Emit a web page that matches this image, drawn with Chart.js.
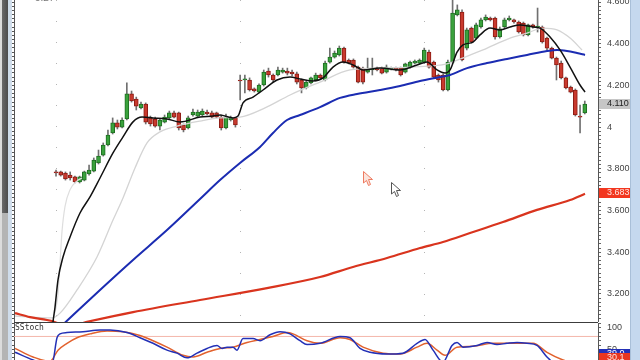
<!doctype html>
<html lang="en">
<head>
<meta charset="utf-8">
<title>Candles with moving averages and SStoch</title>
<script src="https://cdn.jsdelivr.net/npm/chart.js"></script>
<style>
    html, body { margin: 0; padding: 0; background: #fff; }
    #wrap { position: relative; width: 640px; height: 360px; overflow: hidden; background: #fff; }
    #main { position: absolute; left: 0; top: 0; }
    #stoch { position: absolute; left: 0; top: 323px; }
    .box { position: absolute; }
    .txt { position: absolute; white-space: nowrap; }
</style>
</head>
<body>
<div id="wrap">
    <canvas id="main" width="640" height="322"></canvas>
    <canvas id="stoch" width="640" height="37"></canvas>

    <!-- window chrome -->
    <div class="box" style="left:0;top:0;width:2px;height:360px;background:#dcdcdc"></div>
    <div class="box" style="left:2px;top:0;width:6px;height:213px;background:linear-gradient(90deg,#6a6a6a,#4c4c4c)"></div>
    <div class="box" style="left:2px;top:213px;width:6px;height:147px;background:#b4b4b4"></div>
    <div class="box" style="left:8px;top:0;width:4px;height:360px;background:#cfdcea"></div>
    <div class="box" style="left:630px;top:0;width:10px;height:360px;background:#c5d8ee;border-left:1px solid #a9bfd8"></div>
    <div class="box" style="left:14px;top:322px;width:584px;height:1px;background:#3c3c3c"></div>

    <div class="txt" style="left:35px;top:-8px;font:10px 'Liberation Sans';color:#777">5.27</div>
    <div class="txt" style="left:15px;top:323px;font:8px 'DejaVu Sans Mono';color:#333">SStoch</div>

    <svg class="box" style="left:363px;top:171px" width="12" height="16">
        <path d="M0.5,0.5 L0.5,12 L3.5,9.5 L5.5,14.5 L7.5,13.5 L5.5,8.5 L9.5,8.5 Z" fill="#fbe4dc" stroke="#ee7b60" stroke-width="1"/>
    </svg>
    <svg class="box" style="left:391px;top:182px" width="12" height="16">
        <path d="M0.5,0.5 L0.5,12 L3.5,9.5 L5.5,14.5 L7.5,13.5 L5.5,8.5 L9.5,8.5 Z" fill="#fff" stroke="#555" stroke-width="1"/>
    </svg>
</div>
<script>
    // daily candles, index 0..112
    var opens = [
        3.785, 3.785, 3.780, 3.770, 3.761, 3.737, 3.746, 3.775, 3.789, 3.828,
        3.866, 3.914, 3.972, 4.020, 4.000, 4.039, 4.159, 4.135, 4.092, 4.111,
        4.044, 4.039, 4.005, 4.024, 4.044, 4.068, 4.068, 4.010, 3.996, 4.058,
        4.053, 4.058, 4.072, 4.068, 4.068, 4.048, 3.996, 4.034, 4.044, 4.226,
        4.226, 4.226, 4.183, 4.168, 4.202, 4.269, 4.250, 4.250, 4.264, 4.269,
        4.264, 4.255, 4.226, 4.188, 4.212, 4.226, 4.250, 4.226, 4.312, 4.336,
        4.346, 4.379, 4.322, 4.322, 4.288, 4.283, 4.264, 4.274, 4.283, 4.283,
        4.264, 4.279, 4.283, 4.283, 4.264, 4.288, 4.307, 4.307, 4.312, 4.360,
        4.312, 4.250, 4.250, 4.178, 4.312, 4.538, 4.552, 4.379, 4.475, 4.427,
        4.480, 4.514, 4.523, 4.523, 4.432, 4.480, 4.514, 4.514, 4.504, 4.499,
        4.442, 4.490, 4.480, 4.480, 4.427, 4.379, 4.331, 4.307, 4.236, 4.192,
        4.178, 4.053, 4.068];
    var highs = [
        3.794, 3.789, 3.785, 3.785, 3.765, 3.765, 3.789, 3.818, 3.852, 3.890,
        3.924, 3.986, 4.044, 4.034, 4.044, 4.212, 4.173, 4.144, 4.120, 4.116,
        4.053, 4.048, 4.039, 4.058, 4.077, 4.077, 4.072, 4.015, 4.053, 4.087,
        4.082, 4.087, 4.082, 4.077, 4.072, 4.058, 4.063, 4.053, 4.048, 4.250,
        4.250, 4.236, 4.188, 4.207, 4.274, 4.283, 4.255, 4.288, 4.283, 4.283,
        4.274, 4.264, 4.231, 4.221, 4.240, 4.259, 4.255, 4.317, 4.379, 4.365,
        4.389, 4.384, 4.327, 4.327, 4.293, 4.288, 4.331, 4.331, 4.288, 4.288,
        4.298, 4.288, 4.288, 4.288, 4.307, 4.317, 4.322, 4.327, 4.379, 4.370,
        4.317, 4.255, 4.255, 4.322, 4.610, 4.586, 4.562, 4.475, 4.480, 4.499,
        4.523, 4.538, 4.528, 4.528, 4.480, 4.523, 4.533, 4.518, 4.509, 4.504,
        4.494, 4.494, 4.571, 4.485, 4.432, 4.384, 4.336, 4.317, 4.240, 4.197,
        4.183, 4.106, 4.125];
    var lows = [
        3.765, 3.765, 3.746, 3.746, 3.732, 3.732, 3.742, 3.770, 3.785, 3.823,
        3.861, 3.910, 3.967, 3.991, 3.996, 4.034, 4.120, 4.082, 4.087, 4.015,
        4.005, 4.000, 3.986, 4.020, 4.039, 4.044, 3.986, 3.977, 3.991, 4.053,
        4.048, 4.053, 4.058, 4.044, 4.044, 3.986, 3.991, 4.029, 4.000, 4.130,
        4.164, 4.173, 4.168, 4.164, 4.197, 4.240, 4.216, 4.245, 4.259, 4.250,
        4.245, 4.207, 4.164, 4.183, 4.207, 4.221, 4.231, 4.221, 4.307, 4.331,
        4.341, 4.307, 4.303, 4.283, 4.212, 4.207, 4.259, 4.250, 4.269, 4.255,
        4.259, 4.274, 4.269, 4.245, 4.259, 4.283, 4.303, 4.303, 4.307, 4.283,
        4.236, 4.216, 4.173, 4.173, 4.307, 4.533, 4.317, 4.370, 4.403, 4.422,
        4.475, 4.509, 4.509, 4.422, 4.427, 4.475, 4.509, 4.499, 4.451, 4.437,
        4.437, 4.475, 4.456, 4.403, 4.370, 4.327, 4.226, 4.231, 4.183, 4.164,
        4.053, 3.972, 4.063];
    var closes = [
        3.780, 3.770, 3.751, 3.756, 3.737, 3.761, 3.785, 3.794, 3.842, 3.861,
        3.914, 3.962, 4.020, 4.000, 4.034, 4.159, 4.125, 4.101, 4.111, 4.024,
        4.015, 4.005, 4.034, 4.048, 4.068, 4.048, 3.996, 3.986, 4.044, 4.072,
        4.072, 4.077, 4.063, 4.048, 4.048, 3.996, 4.048, 4.044, 4.010, 4.221,
        4.231, 4.178, 4.173, 4.202, 4.264, 4.250, 4.226, 4.274, 4.274, 4.259,
        4.255, 4.216, 4.188, 4.216, 4.236, 4.250, 4.236, 4.307, 4.336, 4.355,
        4.379, 4.312, 4.307, 4.288, 4.216, 4.216, 4.283, 4.283, 4.274, 4.259,
        4.288, 4.283, 4.274, 4.250, 4.303, 4.312, 4.317, 4.322, 4.370, 4.288,
        4.240, 4.226, 4.178, 4.312, 4.547, 4.562, 4.322, 4.466, 4.408, 4.490,
        4.514, 4.528, 4.514, 4.432, 4.471, 4.514, 4.523, 4.504, 4.456, 4.442,
        4.490, 4.480, 4.485, 4.408, 4.379, 4.331, 4.298, 4.236, 4.188, 4.168,
        4.058, 4.048, 4.110];

    // moving averages as [candle index, price]
    var blackMA = [[-0.9, 3.0], [-0.64, 3.065], [-0.21, 3.137], [0.42, 3.267], [1.48, 3.377], [2.97, 3.473],
        [5.08, 3.588], [7.20, 3.665], [9.32, 3.756], [12.07, 3.876], [14.19, 3.953], [16.31, 4.025],
        [18.22, 4.048], [20.55, 4.044], [23.51, 4.039], [26.27, 4.025], [30.50, 4.048], [33.26, 4.053],
        [34.74, 4.058], [37.49, 4.044], [38.55, 4.053], [39.61, 4.116], [41.73, 4.144], [43.85, 4.178],
        [46.81, 4.226], [49.57, 4.240], [51.68, 4.231], [54.44, 4.221], [56.56, 4.236], [58.67, 4.288],
        [60.79, 4.312], [62.91, 4.298], [65.03, 4.274], [68.63, 4.283], [72.87, 4.274], [76.47, 4.298],
        [78.58, 4.312], [80.70, 4.274], [82.40, 4.259], [83.46, 4.274], [84.94, 4.360], [86.21, 4.394],
        [88.33, 4.408], [89.81, 4.442], [91.93, 4.475], [94.05, 4.466], [96.17, 4.480], [98.28, 4.490],
        [101.04, 4.480], [102.52, 4.475], [104.64, 4.432], [106.76, 4.370], [108.88, 4.288],
        [110.99, 4.202], [112.05, 4.168]];
    var grayMA = [[-8.68, 3.094], [-0.85, 3.085], [0.85, 3.108], [4.45, 3.219], [8.68, 3.377], [12.07, 3.554],
        [14.19, 3.660], [16.73, 3.804], [19.28, 3.924], [22.03, 3.977], [25.63, 4.005], [30.50, 4.029],
        [34.74, 4.044], [38.97, 4.048], [44.27, 4.092], [49.57, 4.154], [55.92, 4.216], [62.27, 4.274],
        [68.63, 4.283], [74.98, 4.288], [82.82, 4.303], [86.63, 4.336], [90.45, 4.370], [96.17, 4.427],
        [99.77, 4.451], [103.16, 4.475], [106.13, 4.466], [108.88, 4.427], [111.42, 4.370]];
    var fastGrayMA = [[-0.64, 3.075], [0.42, 3.20], [0.85, 3.35], [1.27, 3.50], [1.91, 3.62], [2.97, 3.70],
        [4.45, 3.742], [5.5, 3.756]];
    var blueMA = [[0.85, 3.04], [9.32, 3.219], [16.31, 3.363], [23.51, 3.506], [30.50, 3.655], [34.74, 3.746],
        [38.97, 3.828], [43.21, 3.905], [45.96, 3.972], [48.93, 4.034], [51.68, 4.058], [55.92, 4.096],
        [60.16, 4.140], [63.76, 4.159], [68.63, 4.178], [72.87, 4.197], [77.10, 4.221], [81.34, 4.240],
        [83.46, 4.250], [87.06, 4.283], [91.30, 4.307], [95.53, 4.327], [99.77, 4.346], [104.00, 4.365],
        [106.13, 4.370], [108.24, 4.365], [110.36, 4.355], [112.05, 4.346]];
    var redMA = [[-8.68, 3.108], [-5.51, 3.089], [-0.85, 3.070], [0.85, 3.058], [5.08, 3.058], [6.57, 3.066],
        [16.31, 3.113], [30.50, 3.171], [44.69, 3.228], [55.92, 3.281], [62.91, 3.329], [70.11, 3.372],
        [77.10, 3.420], [81.97, 3.449], [87.69, 3.492], [94.68, 3.545], [101.88, 3.603], [108.88, 3.650],
        [112.05, 3.680]];

    // slow stochastic, [candle index, value]
    var stochK = [[-8.68, 43], [-4.87, 25], [-2.33, 15], [-0.85, 15], [0.21, 77], [0.85, 86], [2.33, 89],
        [5.72, 91], [9.32, 95], [11.44, 95], [15.04, 89], [17.79, 77], [20.55, 64], [23.51, 48], [25.63, 41],
        [27.75, 30], [29.87, 41], [31.98, 52], [34.10, 59], [35.16, 52], [36.22, 55], [37.49, 55], [38.34, 48],
        [39.61, 75], [41.73, 75], [43.21, 70], [45.33, 84], [47.45, 91], [49.57, 86], [51.68, 70], [53.17, 61],
        [55.92, 64], [60.16, 80], [62.27, 77], [64.39, 52], [66.51, 43], [70.11, 39], [73.50, 41], [76.47, 64],
        [78.16, 73], [79.86, 48], [81.97, 20], [83.88, 59], [84.94, 66], [86.21, 55], [89.18, 59], [91.30, 66],
        [93.41, 61], [95.53, 64], [97.65, 66], [99.77, 64], [101.88, 59], [104.00, 32], [105.27, 20],
        [112.05, 10]];
    var stochD = [[-8.68, 52], [-4.87, 32], [-1.27, 22], [0.42, 48], [2.33, 64], [4.45, 77], [7.20, 86],
        [10.80, 93], [14.19, 91], [17.79, 82], [20.55, 70], [23.51, 55], [26.90, 36], [29.02, 32], [31.98, 43],
        [34.74, 52], [37.49, 55], [40.46, 66], [43.21, 73], [45.96, 80], [48.93, 89], [50.20, 86], [53.17, 70],
        [55.92, 64], [60.16, 77], [62.27, 73], [65.03, 55], [69.27, 41], [72.87, 39], [76.47, 55], [78.58, 64],
        [80.70, 48], [82.40, 36], [84.94, 55], [88.33, 57], [92.57, 64], [96.80, 64], [101.04, 64],
        [104.00, 43], [107.39, 25], [112.05, 10]];
    var stochLevel = 80;

    var priceLabels = [3.2, 3.4, 3.6, 3.8, 4.0, 4.2, 4.4, 4.6];
    var stochLabels = [50, 100];
    var monthStarts = [0, 39, 78];
    var lastRedMA = 3.683;
    var lastK = 39, lastD = 30;

    var X_MIN = -8.9, X_MAX = 114.8;

    Chart.defaults.font.family = "'Liberation Sans'";
    Chart.defaults.font.size = 9;
    Chart.defaults.color = '#444';

    function pts(arr) {
        return arr.map(function (p) { return {x: p[0], y: p[1]}; });
    }

    function stepTicks(lo, hi, step) {
        var t = [];
        for (var v = lo; v <= hi + 1e-9; v += step) t.push({value: Math.round(v * 1000) / 1000});
        return t;
    }

    function fitY(w) {
        return function (a) { a.width = w; a.paddingTop = 0; a.paddingBottom = 0; };
    }

    function lineDs(data, color, width) {
        return {
            type: 'line', data: pts(data), borderColor: color, borderWidth: width,
            pointRadius: 0, fill: false, cubicInterpolationMode: 'monotone', order: 0
        };
    }

    // value boxes on the right axis
    var valueBoxes = {
        id: 'valueBoxes',
        afterDraw: function (chart, args, opts) {
            var ctx = chart.ctx, y = chart.scales.y, right = chart.chartArea.right;
            ctx.save();
            opts.items.forEach(function (b) {
                var py = Math.round(y.getPixelForValue(b.value));
                ctx.fillStyle = b.bg;
                ctx.fillRect(right + 1, py - 5, 31, 10);
                ctx.fillStyle = b.fg;
                ctx.font = "9px 'Liberation Sans'";
                ctx.textBaseline = 'middle';
                ctx.fillText(b.text, right + 9, py);
            });
            ctx.restore();
        }
    };

    var greenBody = '#3aa23c', redBody = '#c93a2e';
    var bodyColors = opens.map(function (o, i) { return closes[i] >= o ? greenBody : redBody; });
    var bodyBorders = opens.map(function (o, i) { return closes[i] >= o ? '#1f6e22' : '#8c1c14'; });

    new Chart(document.getElementById('main'), {
        type: 'bar',
        data: {
            datasets: [
                lineDs(blackMA, '#111111', 1.5),
                lineDs(blueMA, '#1b2cb2', 2),
                lineDs(redMA, '#d9341e', 2.2),
                lineDs(grayMA, '#d4d4d4', 1.3),
                lineDs(fastGrayMA, '#dedede', 1.2),
                {
                    data: opens.map(function (o, i) { return {x: i, y: [o, closes[i]]}; }),
                    backgroundColor: bodyColors, borderColor: bodyBorders, borderWidth: 1,
                    borderSkipped: false, barThickness: 4, minBarLength: 1, grouped: false, order: 2
                },
                {
                    data: lows.map(function (l, i) { return {x: i, y: [l, highs[i]]}; }),
                    backgroundColor: '#707070', barThickness: 1, grouped: false, order: 3
                }
            ]
        },
        options: {
            responsive: false,
            animation: false,
            devicePixelRatio: 1,
            events: [],
            layout: {padding: 0},
            scales: {
                x: {
                    type: 'linear', min: X_MIN, max: X_MAX, offset: false,
                    afterBuildTicks: function (a) { a.ticks = monthStarts.map(function (v) { return {value: v}; }); },
                    afterFit: function (a) { a.height = 0; a.paddingLeft = 0; a.paddingRight = 0; },
                    ticks: {display: false},
                    grid: {color: '#b4b4b4', drawTicks: false, offset: false},
                    border: {display: false, dash: [1, 20]}
                },
                y: {
                    position: 'right', min: 3.0653, max: 4.6096,
                    afterBuildTicks: function (a) { a.ticks = stepTicks(3.08, 4.60, 0.02); },
                    afterFit: fitY(42),
                    ticks: {
                        autoSkip: false, padding: 6, color: '#444',
                        callback: function (v) {
                            for (var k = 0; k < priceLabels.length; k++) {
                                if (Math.abs(priceLabels[k] - v) < 1e-6) return v === 4 ? '4' : priceLabels[k].toFixed(3);
                            }
                            return '';
                        }
                    },
                    grid: {drawOnChartArea: false, tickLength: 3, color: '#666'},
                    border: {color: '#555'}
                },
                yl: {
                    position: 'left', min: 3.0653, max: 4.6096,
                    afterBuildTicks: function (a) { a.ticks = stepTicks(3.08, 4.60, 0.02); },
                    afterFit: fitY(14),
                    ticks: {display: false},
                    grid: {drawOnChartArea: false, tickLength: 2, color: '#555'},
                    border: {color: '#555'}
                }
            },
            plugins: {
                legend: {display: false},
                tooltip: {enabled: false},
                valueBoxes: {
                    items: [
                        {value: closes[closes.length - 1], text: '4.110', bg: '#c6c6c6', fg: '#222'},
                        {value: lastRedMA, text: '3.683', bg: '#f2361f', fg: '#ffe6e0'}
                    ]
                }
            }
        },
        plugins: [valueBoxes]
    });

    new Chart(document.getElementById('stoch'), {
        type: 'line',
        data: {
            datasets: [
                lineDs(stochK, '#2330b6', 1.5),
                lineDs(stochD, '#e2622e', 1.5),
                {
                    data: [{x: X_MIN, y: stochLevel}, {x: X_MAX, y: stochLevel}],
                    borderColor: '#f4b6aa', borderWidth: 1, pointRadius: 0, order: 1
                }
            ]
        },
        options: {
            responsive: false,
            animation: false,
            devicePixelRatio: 1,
            events: [],
            layout: {padding: 0},
            scales: {
                x: {type: 'linear', min: X_MIN, max: X_MAX, display: false},
                y: {
                    position: 'right', min: 25, max: 111.4,
                    afterBuildTicks: function (a) { a.ticks = stepTicks(30, 110, 10); },
                    afterFit: fitY(42),
                    ticks: {
                        autoSkip: false, padding: 6, color: '#444',
                        callback: function (v) { return stochLabels.indexOf(v) >= 0 ? String(v) : ''; }
                    },
                    grid: {drawOnChartArea: false, tickLength: 3, color: '#666'},
                    border: {color: '#555'}
                },
                yl: {
                    position: 'left', min: 25, max: 111.4,
                    afterBuildTicks: function (a) { a.ticks = stepTicks(30, 110, 10); },
                    afterFit: fitY(14),
                    ticks: {display: false},
                    grid: {drawOnChartArea: false, tickLength: 2, color: '#555'},
                    border: {color: '#555'}
                }
            },
            plugins: {
                legend: {display: false},
                tooltip: {enabled: false},
                valueBoxes: {
                    items: [
                        {value: lastK, text: '39.0', bg: '#2330b6', fg: '#fff'},
                        {value: lastD, text: '30.1', bg: '#e8361f', fg: '#ffe6e0'}
                    ]
                }
            }
        },
        plugins: [valueBoxes]
    });
</script>
</body>
</html>
